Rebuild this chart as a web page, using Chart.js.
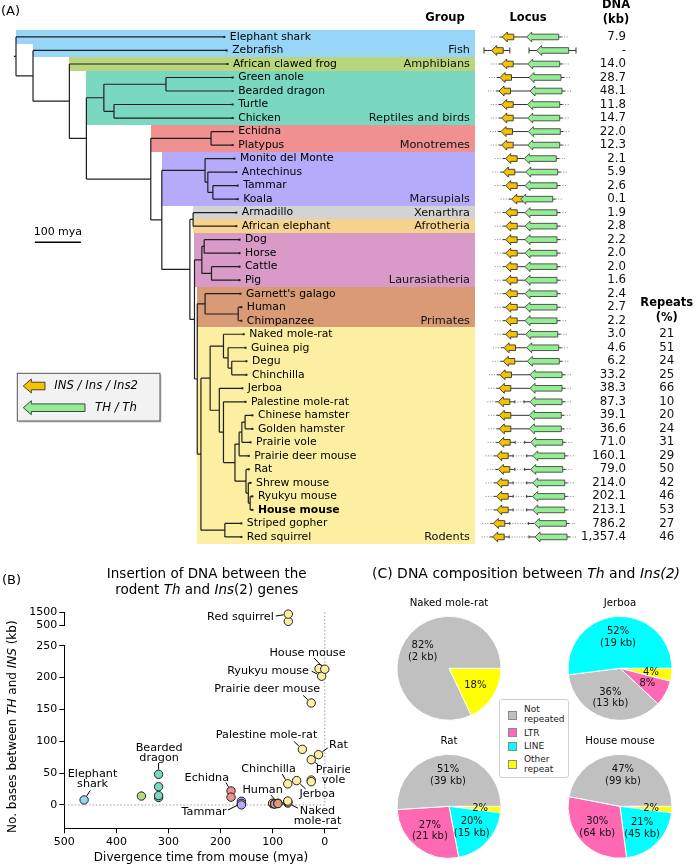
<!DOCTYPE html>
<html><head><meta charset="utf-8">
<script src="https://cdn.jsdelivr.net/npm/chart.js@4.4.1/dist/chart.umd.min.js"></script>
<style>
html,body{margin:0;padding:0;background:#fff;}
body{width:700px;height:867px;position:relative;overflow:hidden;font-family:"DejaVu Sans",sans-serif;color:#000;}
canvas{position:absolute;}
.t{position:absolute;white-space:nowrap;}
.leg{position:absolute;left:499px;top:699px;width:70px;height:79px;border:1px solid #cfcfcf;border-radius:3px;background:#fff;font-size:9px;box-sizing:border-box;}
.leg .sq{position:absolute;left:8px;width:9px;height:9px;border:1px solid #8a8a8a;box-sizing:border-box;}
.leg .lb{position:absolute;left:24px;line-height:10px;color:#222;}
</style></head>
<body>
<canvas id="cTree" width="480" height="560" style="left:0;top:0;width:480px;height:560px"></canvas>
<canvas id="cLocus" width="220" height="560" style="left:480px;top:0;width:220px;height:560px"></canvas>
<canvas id="cBlow" width="350" height="307" style="left:0;top:560px;width:350px;height:307px"></canvas>
<canvas id="cBup" width="350" height="80" style="left:0;top:560px;width:350px;height:80px"></canvas>
<canvas id="cP0" width="120" height="130" style="left:389px;top:597px;width:120px;height:130px"></canvas>
<canvas id="cP1" width="120" height="130" style="left:560px;top:597px;width:120px;height:130px"></canvas>
<canvas id="cP2" width="120" height="130" style="left:389px;top:735.4px;width:120px;height:130px"></canvas>
<canvas id="cP3" width="120" height="130" style="left:560px;top:735.4px;width:120px;height:130px"></canvas>
<div class="t" style="left:2px;top:572px;font-size:13px;line-height:16px;">(B)</div>
<div class="t" style="left:56.7px;width:300px;text-align:center;top:565.3px;font-size:13.5px;line-height:16px;">Insertion of DNA between the<br>rodent <i>Th</i> and <i>Ins</i>(2) genes</div>
<div class="t" style="left:356px;width:340px;text-align:center;top:565.3px;font-size:14px;line-height:16px;">(C) DNA composition between <i>Th</i> and <i>Ins(2)</i></div>
<div class="leg">
  <div class="sq" style="top:10.5px;background:#c0c0c0"></div><div class="lb" style="top:4px">Not<br>repeated</div>
  <div class="sq" style="top:28px;background:#ff69b4"></div><div class="lb" style="top:27.5px">LTR</div>
  <div class="sq" style="top:41.5px;background:#00ffff"></div><div class="lb" style="top:41px">LINE</div>
  <div class="sq" style="top:59.5px;background:#ffff00"></div><div class="lb" style="top:54px">Other<br>repeat</div>
</div>
<script>
// ---------------- DATA ----------------
const species = ["Elephant shark","Zebrafish","African clawed frog","Green anole","Bearded dragon","Turtle","Chicken","Echidna","Platypus","Monito del Monte","Antechinus","Tammar","Koala","Armadillo","African elephant","Dog","Horse","Cattle","Pig","Garnett's galago","Human","Chimpanzee","Naked mole-rat","Guinea pig","Degu","Chinchilla","Jerboa","Palestine mole-rat","Chinese hamster","Golden hamster","Prairie vole","Prairie deer mouse","Rat","Shrew mouse","Ryukyu mouse","House mouse","Striped gopher","Red squirrel"];
const speciesGroup = [0,0,1,2,2,2,2,3,3,4,4,4,4,5,6,7,7,7,7,8,8,8,9,9,9,9,9,9,9,9,9,9,9,9,9,9,9,9];
const groupNames = ["Fish","Amphibians","Reptiles and birds","Monotremes","Marsupials","Xenarthra","Afrotheria","Laurasiatheria","Primates","Rodents"];
const groupColors = ["#98d6f7","#b9d67c","#7bd8c0","#f09090","#b4abfa","#d3d3d3","#f6d38e","#d89bc8","#d99b76","#fdefa2"];
// tip position of each leaf (my from root)
const tipAge = [454,459,461,472,472,472,472,472,472,476,480,483,483,480,480,487,487,487,487,489,491,491,496,500,502,502,493,500,515,515,511,507,507,511,515,515,491,491];
// tree: [node position (my from root), child, child]; leaves are species names
const tree = [0, "Elephant shark",
  [37, "Zebrafish",
    [116, "African clawed frog",
      [153,
        [191, [326, "Green anole", "Bearded dragon"], [213, "Turtle", "Chicken"]],
        [293,
          [424, "Echidna", "Platypus"],
          [317,
            [411, "Monito del Monte", [417, "Antechinus", [428, "Tammar", "Koala"]]],
            [378,
              [385, "Armadillo", "African elephant"],
              [388,
                [404, [409, "Dog", "Horse"], [425, "Cattle", "Pig"]],
                [394,
                  [411, "Garnett's galago", [483, "Human", "Chimpanzee"]],
                  [402,
                    [422,
                      [451, "Naked mole-rat", [461, "Guinea pig", [469, "Degu", "Chinchilla"]]],
                      [442, "Jerboa",
                        [451, "Palestine mole-rat",
                          [476,
                            [485, [491, [498, "Chinese hamster", "Golden hamster"], "Prairie vole"], "Prairie deer mouse"],
                            [500, "Rat", [505, "Shrew mouse", [509, "Ryukyu mouse", "House mouse"]]]
                          ]
                        ]
                      ]
                    ],
                    [454, "Striped gopher", "Red squirrel"]
                  ]
                ]
              ]
            ]
          ]
        ]
      ]
    ]
  ]
];
const dnaKb = [7.9,null,14.0,28.7,48.1,11.8,14.7,22.0,12.3,2.1,5.9,2.6,0.1,1.9,2.8,2.2,2.0,2.0,1.6,2.4,2.7,2.2,3.0,4.6,6.2,33.2,38.3,87.3,39.1,36.6,71.0,160.1,79.0,214.0,202.1,213.1,786.2,1357.4];
const repeatsPct = [null,null,null,null,null,null,null,null,null,null,null,null,null,null,null,null,null,null,null,null,null,null,21,51,24,25,66,10,20,24,31,29,50,42,46,53,27,46];
// locus track: start (arrow tip) of INS and TH genes
const insAt = [22.3,11.7,21.7,20,19,21.7,21.7,21,21.7,25.7,23.3,25.7,31.7,25.7,25.7,25.7,25.7,25.7,25.7,25.7,25.7,25.7,25.7,24,23.3,20,19.3,18.3,19.3,19.3,18.7,16.7,18.3,16.7,16.7,16.7,13.3,12.7];
const thAt = [46.7,56.7,47.7,49,50,47.7,47.7,48.3,47.7,44.3,45.7,45,40.7,45,45,45,45,45,45,45,45,45,45.7,46.7,47.3,50,50,50,49.3,49.3,50.7,52.7,50.7,52.7,52.7,52.7,54.3,55];
const insLen = 11.5, thLen = 32;
// panel B
const divergenceMya = [462,null,352,319,319,319,319,180,180,160,160,160,160,100,100,96,96,96,96,90,90,90,71,71,71,71,54,43,26,26,26,26,12,11,6,0,70,70];
const bXTicks = [500,400,300,200,100,0];
const bYTicks = [0,50,100,150,200,250];
const bYTicksUpper = [500,1500];
// panel C
const repeatClasses = ["Not repeated","LTR","LINE","Other repeat"];
const classColors = ["#c0c0c0","#ff69b4","#00ffff","#ffff00"];
const pieSpecies = ["Naked mole-rat","Jerboa","Rat","House mouse"];
const piePct = [[82,0,0,18],[36,8,52,4],[51,27,20,2],[47,30,21,2]];
const pieKb = [[2,null,null,null],[13,null,19,null],[39,21,15,null],[99,64,45,null]];
const pieOrder = [[0,1,2,3],[2,0,1,3],[0,1,2,3],[0,1,2,3]];

// ---------------- HELPERS ----------------
Chart.defaults.font.family = '"DejaVu Sans", sans-serif';
Chart.defaults.color = '#000';
Chart.defaults.animation = false;
Chart.defaults.plugins.legend.display = false;
Chart.defaults.plugins.tooltip.enabled = false;
const FF = '"DejaVu Sans", sans-serif';
function font(size, weight, style){ return (style||'normal')+' '+(weight||'normal')+' '+size+'px '+FF; }
function text(ctx, s, x, y, size, o){
  o = o||{};
  ctx.font = font(size, o.weight, o.style);
  ctx.fillStyle = o.color||'#000';
  ctx.textAlign = o.align||'left';
  ctx.textBaseline = 'middle';
  ctx.fillText(s, x, y);
}
function mixed(ctx, segs, x, y, size, align){
  let w = 0;
  const ws = segs.map(function(sg){ ctx.font = font(size,'normal', sg[1]?'italic':'normal'); const m = ctx.measureText(sg[0]).width; w += m; return m; });
  let cx = align==='center' ? x - w/2 : (align==='right' ? x - w : x);
  ctx.textAlign='left'; ctx.textBaseline='middle'; ctx.fillStyle='#000';
  segs.forEach(function(sg,k){ ctx.font = font(size,'normal', sg[1]?'italic':'normal'); ctx.fillText(sg[0], cx, y); cx += ws[k]; });
}
function seg(ctx, x0, y0, x1, y1, dash){
  ctx.beginPath(); ctx.setLineDash(dash||[]); ctx.moveTo(x0,y0); ctx.lineTo(x1,y1); ctx.stroke(); ctx.setLineDash([]);
}
function geneArrow(ctx, xTip, len, y, headLen, headH, bodyH, fill, stroke){
  ctx.beginPath();
  ctx.moveTo(xTip, y);
  ctx.lineTo(xTip+headLen, y-headH);
  ctx.lineTo(xTip+headLen, y-bodyH);
  ctx.lineTo(xTip+len, y-bodyH);
  ctx.lineTo(xTip+len, y+bodyH);
  ctx.lineTo(xTip+headLen, y+bodyH);
  ctx.lineTo(xTip+headLen, y+headH);
  ctx.closePath();
  ctx.fillStyle = fill; ctx.fill();
  ctx.lineWidth = 0.9; ctx.strokeStyle = stroke; ctx.stroke();
}

// ---------------- TREE LAYOUT ----------------
const segs = [];
const bandStart = species.map(function(){ return Infinity; });
function walk(node, parentPos){
  if (typeof node === 'string'){
    const r = species.indexOf(node);
    segs.push([{x:parentPos,y:r},{x:tipAge[r],y:r}]);
    bandStart[r] = Math.min(bandStart[r], parentPos);
    return {y:r, rows:[r]};
  }
  const pos = node[0];
  const a = walk(node[1], pos), b = walk(node[2], pos);
  const y = (a.y + b.y)/2;
  segs.push([{x:pos,y:a.y},{x:pos,y:b.y}]);
  segs.push([{x:parentPos,y:y},{x:pos,y:y}]);
  const rows = a.rows.concat(b.rows);
  const g = speciesGroup[rows[0]];
  if (rows.every(function(r){ return speciesGroup[r]===g; })) rows.forEach(function(r){ bandStart[r] = Math.min(bandStart[r], parentPos); });
  return {y:y, rows:rows};
}
walk(tree, -5);

const treeDecor = {
  id:'treeDecor',
  beforeDatasetsDraw(chart){
    const ctx = chart.ctx, ca = chart.chartArea, xs = chart.scales.x, ys = chart.scales.y;
    ctx.save();
    for (let r=0;r<species.length;r++){
      const x0 = Math.round(xs.getPixelForValue(bandStart[r]));
      const y0 = Math.round(ys.getPixelForValue(r-0.5)), y1 = Math.round(ys.getPixelForValue(r+0.5));
      ctx.fillStyle = groupColors[speciesGroup[r]];
      ctx.fillRect(x0, y0, Math.round(ca.right)-x0, y1-y0);
    }
    ctx.restore();
  },
  afterDatasetsDraw(chart){
    const ctx = chart.ctx, ca = chart.chartArea, xs = chart.scales.x, ys = chart.scales.y;
    ctx.save();
    for (let r=0;r<species.length;r++){
      const xt = xs.getPixelForValue(tipAge[r]), y = ys.getPixelForValue(r);
      ctx.fillStyle = '#222'; ctx.fillRect(xt-1.5, y-1, 2, 2);
      text(ctx, species[r], xt+5, y, 10.8, {weight: species[r]==='House mouse'?'bold':'normal'});
    }
    groupNames.forEach(function(g, gi){
      let last = -1; speciesGroup.forEach(function(v,r){ if (v===gi) last = r; });
      text(ctx, g, ca.right-5, ys.getPixelForValue(last), 11.3, {align:'right', color:'#111'});
    });
    // scale bar (100 my)
    ctx.strokeStyle = '#000'; ctx.lineWidth = 1.5;
    const sb0 = xs.getPixelForValue(41), sb1 = xs.getPixelForValue(141), sy = ys.getPixelForValue(15.2);
    seg(ctx, sb0, sy, sb1, sy);
    text(ctx, '100 mya', (sb0+sb1)/2, ys.getPixelForValue(14.45), 11, {align:'center'});
    // headers
    text(ctx, '(A)', 1, 12, 13);
    text(ctx, 'Group', 445, 18, 11.5, {weight:'bold', align:'center'});
    // legend box
    ctx.fillStyle = '#c8c8c8'; ctx.fillRect(18.8, 374.8, 142.7, 47.7);
    ctx.fillStyle = '#f2f2f2'; ctx.fillRect(17.3, 373.3, 142.7, 47.7);
    ctx.strokeStyle = '#555'; ctx.lineWidth = 1; ctx.strokeRect(17.3, 373.3, 142.7, 47.7);
    geneArrow(ctx, 23.3, 21.7, 386, 8, 7, 3.8, '#f5c200', '#333');
    geneArrow(ctx, 23.3, 61.7, 407.7, 8, 7, 3.8, '#93ee93', '#333');
    text(ctx, 'INS / Ins / Ins2', 54.3, 386, 11.7, {style:'italic'});
    text(ctx, 'TH / Th', 95, 407.7, 11.7, {style:'italic'});
    ctx.restore();
  }
};

new Chart(document.getElementById('cTree'), {
  type:'scatter',
  data:{datasets: segs.map(function(s){ return {data:s, showLine:true, borderColor:'#1e1e1e', borderWidth:1.2, pointRadius:0, fill:false}; })},
  options:{
    responsive:false, animation:false,
    layout:{padding:{left:13.7, right:5, top:30.2, bottom:16.3}},
    scales:{
      x:{type:'linear', display:false, min:-5, max:997.8},
      y:{type:'linear', display:false, min:-0.5, max:species.length-0.5, reverse:true}
    }
  },
  plugins:[treeDecor]
});

// ---------------- LOCUS TRACK ----------------
const locusDecor = {
  id:'locusDecor',
  afterDraw(chart){
    const ctx = chart.ctx, ca = chart.chartArea, xs = chart.scales.x, ys = chart.scales.y;
    const px = function(v){ return xs.getPixelForValue(v); };
    ctx.save();
    for (let r=0;r<species.length;r++){
      const y = ys.getPixelForValue(r);
      const xi = px(insAt[r]), xe = px(insAt[r]+insLen), xt = px(thAt[r]), xte = px(thAt[r]+thLen);
      ctx.lineWidth = 1;
      if (dnaKb[r] === null){
        ctx.strokeStyle = '#333';
        seg(ctx, xi-7.7, y, xe+6.6, y); seg(ctx, xi-7.7, y-3, xi-7.7, y+3); seg(ctx, xe+6.6, y-3, xe+6.6, y+3);
        seg(ctx, xt-7.7, y, xte+7.3, y); seg(ctx, xt-7.7, y-3, xt-7.7, y+3); seg(ctx, xte+7.3, y-3, xte+7.3, y+3);
      } else {
        ctx.strokeStyle = '#888'; seg(ctx, xi-11, y, xi-3, y, [1,1.5]);
        ctx.strokeStyle = '#333'; seg(ctx, xi-3, y, xi, y);
        if (dnaKb[r] > 50){
          seg(ctx, xe, y, xe+5, y); seg(ctx, xe+5, y-1.5, xe+5, y+1.5);
          ctx.strokeStyle = '#888'; seg(ctx, xe+5, y, xt-6, y, [1,1.5]);
          ctx.strokeStyle = '#333'; seg(ctx, xt-6, y-1.5, xt-6, y+1.5); seg(ctx, xt-6, y, xt, y);
        } else {
          seg(ctx, xe, y, xt, y);
        }
        seg(ctx, xte, y, xte+3, y);
        ctx.strokeStyle = '#888'; seg(ctx, xte+3, y, xte+10, y, [1,1.5]);
      }
      geneArrow(ctx, xi, xe-xi, y, 5, 5, 2.8, '#f5c200', '#333');
      geneArrow(ctx, xt, xte-xt, y, 5, 5, 2.8, '#93ee93', '#444');
      const s = dnaKb[r]===null ? '-' : dnaKb[r].toLocaleString('en-US',{minimumFractionDigits:1, maximumFractionDigits:1});
      text(ctx, s, ca.left+146, y, 11.8, {align:'right', color:'#111'});
      if (repeatsPct[r] !== null) text(ctx, String(repeatsPct[r]), ca.left+186.7, y, 11.8, {align:'center', color:'#111'});
    }
    text(ctx, 'Locus', ca.left+48, 18, 11.5, {weight:'bold', align:'center'});
    text(ctx, 'DNA', ca.left+136, 5, 11.5, {weight:'bold', align:'center'});
    text(ctx, '(kb)', ca.left+136, 20, 11.5, {weight:'bold', align:'center'});
    text(ctx, 'Repeats', ca.left+186.7, 303.3, 11.5, {weight:'bold', align:'center'});
    text(ctx, '(%)', ca.left+186.7, 318.3, 11.5, {weight:'bold', align:'center'});
    ctx.restore();
  }
};
new Chart(document.getElementById('cLocus'), {
  type:'scatter',
  data:{datasets:[]},
  options:{
    responsive:false, animation:false,
    layout:{padding:{left:0, right:0, top:30.2, bottom:16.3}},
    scales:{
      x:{type:'linear', display:false, min:0, max:220},
      y:{type:'linear', display:false, min:-0.5, max:species.length-0.5, reverse:true}
    }
  },
  plugins:[locusDecor]
});

// ---------------- PANEL B ----------------
const bIdx = species.map(function(s,i){ return i; }).filter(function(i){ return dnaKb[i]!==null && divergenceMya[i]!==null; });
const lowIdx = bIdx.filter(function(i){ return dnaKb[i] <= 250; });
const upIdx = bIdx.filter(function(i){ return dnaKb[i] > 250; });
function bDataset(idx){
  return {data: idx.map(function(i){ return {x:divergenceMya[i], y:dnaKb[i]}; }),
    pointRadius:4.2, pointBackgroundColor: idx.map(function(i){ return groupColors[speciesGroup[i]]; }),
    pointBorderColor:'#222', pointBorderWidth:1, showLine:false, clip:false};
}
// [species, text lines, text dx, text dy, align, leader dx, leader dy] (offsets in px from the point)
const bNotesLow = [
  ["House mouse",["House mouse"],-17.3,-16.2,"center",-10.7,-11.2],
  ["Ryukyu mouse",["Ryukyu mouse"],-12.7,-5.5,"right",-10,-5],
  ["Prairie deer mouse",["Prairie deer mouse"],-44,-13.9,"center",-8,-7.5],
  ["Palestine mole-rat",["Palestine mole-rat"],-35.8,-14.5,"center",-8.3,-7.8],
  ["Rat",["Rat"],10.6,-9.8,"left",9.3,-6.8],
  ["Prairie vole",["Prairie","vole"],22.3,10.2,"center",7,5],
  ["Chinchilla",["Chinchilla"],-19.3,-14.9,"center",-5.6,-9.9],
  ["Jerboa",["Jerboa"],20.7,13.7,"center",9,8.4],
  ["Naked mole-rat",["Naked","mole-rat"],29.7,7.6,"center",10,5],
  ["Human",["Human"],-15.3,-13.3,"center",-7,-8.3],
  ["Tammar",["Tammar"],-37.3,8.4,"center",-13.6,6.7],
  ["Echidna",["Echidna"],-24.2,-12.7,"center",-5.2,-8.5],
  ["Bearded dragon",["Bearded","dragon"],0.5,-26.7,"center",0,-11.4],
  ["Elephant shark",["Elephant","shark"],8.4,-26,"center",6.2,-9.5]
];
const bNotesUp = [["Red squirrel",["Red squirrel"],-14.5,2.6,"right",-12.5,1.9]];
function drawNotes(chart, notes){
  const ctx = chart.ctx, xs = chart.scales.x, ys = chart.scales.y;
  ctx.save(); ctx.strokeStyle = '#000'; ctx.lineWidth = 1;
  notes.forEach(function(n){
    const i = species.indexOf(n[0]);
    const px = xs.getPixelForValue(divergenceMya[i]), py = ys.getPixelForValue(dnaKb[i]);
    const d = Math.hypot(n[5], n[6]);
    seg(ctx, px+n[5], py+n[6], px+n[5]/d*4.8, py+n[6]/d*4.8);
    n[1].forEach(function(s,k){ text(ctx, s, px+n[2], py+n[3]+k*10.6, 11.2, {align:n[4]}); });
  });
  ctx.restore();
}
const axisCommon = {
  grid:{drawOnChartArea:false, drawTicks:true, tickLength:5, color:'#000', lineWidth:1},
  border:{display:true, color:'#000', width:1},
  ticks:{font:{size:11}, color:'#000', padding:2, autoSkip:false, maxRotation:0, callback:function(v){ return String(v); }}
};
const bLowDecor = {
  id:'bLowDecor',
  beforeDatasetsDraw(chart){
    const ctx = chart.ctx, xs = chart.scales.x, ys = chart.scales.y;
    ctx.save(); ctx.strokeStyle = '#9a9a9a'; ctx.lineWidth = 1;
    const x0 = xs.getPixelForValue(0), y0 = ys.getPixelForValue(0);
    seg(ctx, xs.getPixelForValue(500), y0, x0, y0, [1.5,2]);
    seg(ctx, x0, 52.3, x0, y0, [1.5,2]);
    ctx.restore();
  },
  afterDatasetsDraw(chart){ drawNotes(chart, bNotesLow); },
  afterDraw(chart){
    const ctx = chart.ctx, ca = chart.chartArea;
    ctx.save();
    mixed(ctx, [["Divergence time from mouse (mya)", false]], (ca.left+ca.right)/2, 298.3, 12, 'center');
    ctx.translate(13, 166.7); ctx.rotate(-Math.PI/2);
    mixed(ctx, [["No. bases between ",false],["TH",true],[" and ",false],["INS",true],[" (kb)",false]], 0, 0, 12, 'center');
    ctx.restore();
  }
};
new Chart(document.getElementById('cBlow'), {
  type:'scatter',
  data:{datasets:[bDataset(lowIdx)]},
  options:{
    responsive:false, animation:false,
    layout:{padding:{left:0, right:12.2, top:85.7, bottom:0}},
    scales:{
      x:Object.assign({type:'linear', reverse:true, min:-25, max:500,
        afterBuildTicks:function(s){ s.ticks = bXTicks.map(function(v){ return {value:v}; }); },
        afterFit:function(s){ s.height = 38.7; }}, axisCommon),
      y:Object.assign({type:'linear', min:-36.6, max:250,
        afterBuildTicks:function(s){ s.ticks = bYTicks.map(function(v){ return {value:v}; }); },
        afterFit:function(s){ s.width = 64.3; }}, axisCommon)
    }
  },
  plugins:[bLowDecor]
});
new Chart(document.getElementById('cBup'), {
  type:'scatter',
  data:{datasets:[bDataset(upIdx)]},
  options:{
    responsive:false, animation:false,
    layout:{padding:{left:0, right:12.2, top:52.3, bottom:15}},
    scales:{
      x:{type:'linear', display:false, reverse:true, min:-25, max:500},
      y:Object.assign({type:'linear', min:500, max:1500,
        afterBuildTicks:function(s){ s.ticks = bYTicksUpper.map(function(v){ return {value:v}; }); },
        afterFit:function(s){ s.width = 64.3; }}, axisCommon)
    }
  },
  plugins:[{id:'bUpDecor', afterDatasetsDraw(chart){ drawNotes(chart, bNotesUp); }}]
});

// ---------------- PANEL C ----------------
function makePie(k){
  const ord = pieOrder[k].slice().reverse().filter(function(i){ return piePct[k][i] > 0; });
  new Chart(document.getElementById('cP'+k), {
    type:'pie',
    data:{labels: ord.map(function(i){ return repeatClasses[i]; }),
      datasets:[{data: ord.map(function(i){ return piePct[k][i]; }), backgroundColor: ord.map(function(i){ return classColors[i]; }), borderColor:'#fff', borderWidth:1}]},
    options:{responsive:false, animation:false, rotation:90,
      layout:{padding:{left:7.5, right:7.5, top:18.8, bottom:6.2}}},
    plugins:[{id:'pieLab'+k, afterDatasetsDraw(chart){
      const ctx = chart.ctx, ca = chart.chartArea;
      const arcs = chart.getDatasetMeta(0).data;
      ctx.save();
      arcs.forEach(function(a, j){
        const i = ord[j];
        const mid = (a.startAngle + a.endAngle)/2, rr = a.outerRadius*0.6;
        const cx = a.x + Math.cos(mid)*rr, cy = a.y + Math.sin(mid)*rr;
        const lines = [piePct[k][i]+'%'];
        if (pieKb[k][i] !== null) lines.push('('+pieKb[k][i]+' kb)');
        lines.forEach(function(s, q){ text(ctx, s, cx, cy + (q - (lines.length-1)/2)*11.6, 10, {align:'center', color:'#111'}); });
      });
      text(ctx, pieSpecies[k], (ca.left+ca.right)/2, 6.3, 10.2, {align:'center'});
      ctx.restore();
    }}]
  });
}
[0,1,2,3].forEach(makePie);
</script>
</body></html>
